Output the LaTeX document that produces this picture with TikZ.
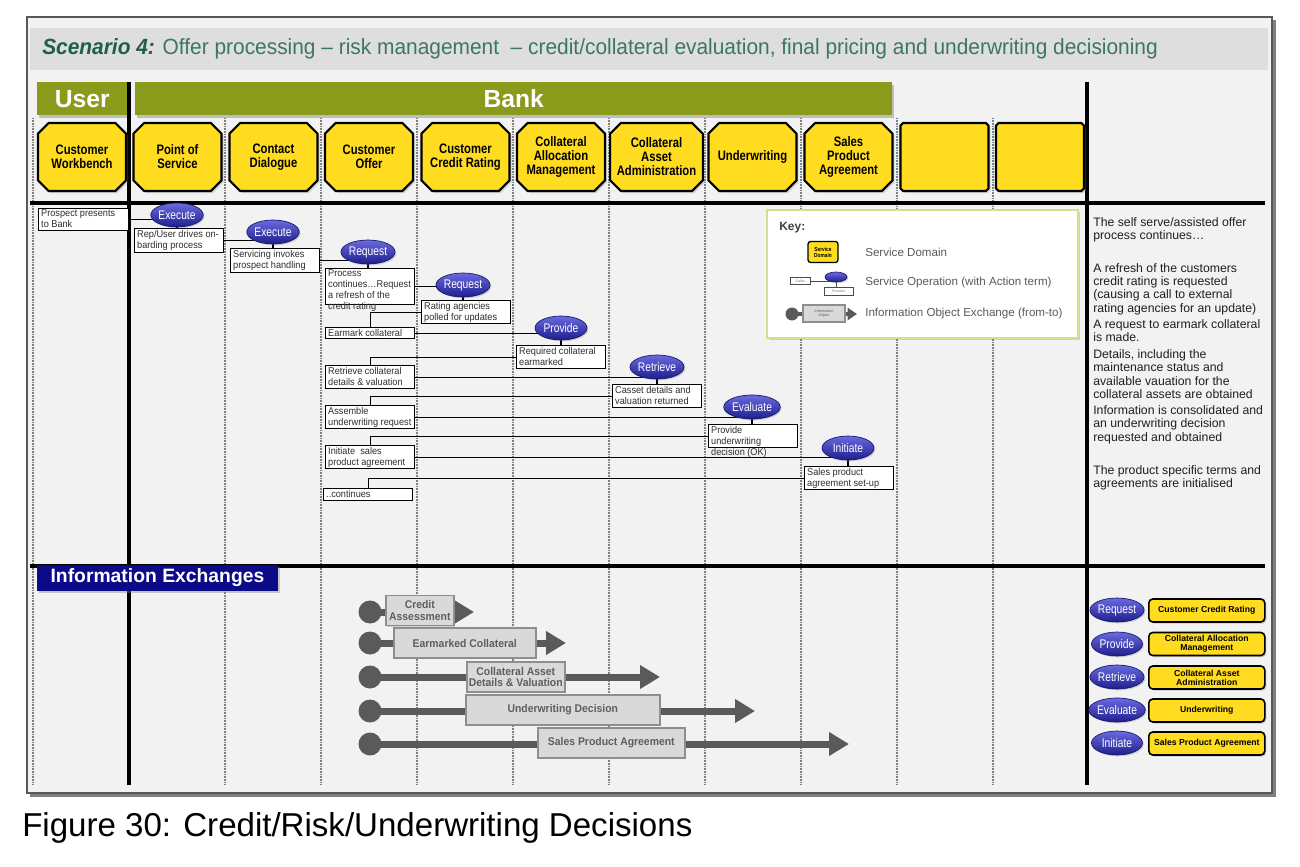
\documentclass[tikz,border=0pt]{standalone}
\usepackage{fontspec}
\setmainfont{Liberation Sans}
\newfontfamily\nar[FakeStretch=0.82]{Liberation Sans}
\newfontfamily\ttlfont[FakeStretch=0.95]{Liberation Sans}
\newfontfamily\msgf[FakeStretch=0.93]{Liberation Sans}
\usetikzlibrary{shapes.misc,shapes.geometric,arrows.meta,shadows,calc}
\definecolor{panelbg}{HTML}{F2F2F2}
\definecolor{titlebg}{HTML}{DEDEDE}
\definecolor{ttlbold}{HTML}{1F5E48}
\definecolor{ttlreg}{HTML}{3C7763}
\definecolor{bankolive}{HTML}{8A9A1B}
\definecolor{sdyellow}{HTML}{FFDC1F}
\definecolor{optop}{HTML}{6A6AE0}
\definecolor{opbot}{HTML}{1E1E8E}
\definecolor{opedge}{HTML}{16166A}
\definecolor{navyhdr}{HTML}{0B0B8A}
\definecolor{keyedge}{HTML}{D3DE8E}
\definecolor{keytext}{HTML}{5A5A5A}
\definecolor{iogray}{HTML}{5A5A5A}
\definecolor{ioboxfill}{HTML}{D9D9D9}
\definecolor{ioboxdraw}{HTML}{8E8E8E}
\definecolor{iotext}{HTML}{5E5E5E}
\definecolor{dotgray}{HTML}{808080}
\pgfdeclarelayer{panel}
\pgfdeclarelayer{conn}
\pgfsetlayers{panel,conn,main}
\newcommand\msg[6]{%
  \node[mbox, minimum width=#4*0.75pt, minimum height=#5*0.75pt, anchor=north west] (#1) at (#2,#3) {};
  \node[mtext, anchor=north west] (#1t) at (#1.north west) {#6};}
\begin{document}
\begin{tikzpicture}[x=0.75pt,y=-0.75pt,
  sd/.style={chamfered rectangle, chamfered rectangle xsep=4pt, chamfered rectangle ysep=4pt,
    draw=black, line width=1.6pt, fill=sdyellow, minimum width=88*0.75pt, minimum height=68*0.75pt,
    inner sep=1pt, align=center, font=\nar\bfseries\fontsize{10.3}{10.5}\selectfont,
    drop shadow={opacity=0.3, shadow xshift=1.5pt, shadow yshift=-1.5pt}},
  bar/.style={fill=bankolive, text=white, font=\bfseries\fontsize{18.5}{18.5}\selectfont,
    minimum height=33*0.75pt, inner sep=0pt, drop shadow={opacity=0.45, shadow xshift=1pt, shadow yshift=-2pt}},
  dotline/.style={draw=dotgray, line width=0.8pt, dash pattern=on 0.6pt off 0.6pt},
  thickline/.style={draw=black, line width=2.3pt},
  op/.style={ellipse, draw=opedge, line width=0.5pt, top color=optop, bottom color=opbot,
    minimum width=52*0.75pt, minimum height=24*0.75pt, inner sep=0pt, text=white,
    font=\nar\fontsize{9.4}{9.4}\selectfont, drop shadow={opacity=0.3, shadow xshift=1pt, shadow yshift=-1pt}},
  mbox/.style={draw=black, line width=1.1pt, fill=white, inner sep=0pt},
  mtext/.style={inner xsep=2.2pt, inner ysep=1.4pt, align=left, font=\msgf\fontsize{7.4}{8.25}\selectfont, text=black!82},
  cn/.style={draw=black, line width=1.1pt},
  ioline/.style={line width=5.25pt, draw=iogray, -{Triangle[length=15pt,width=17pt]}},
  iocirc/.style={circle, fill=iogray, minimum size=23*0.75pt, inner sep=0pt},
  iobox/.style={draw=ioboxdraw, line width=1.2pt, fill=ioboxfill, font=\msgf\bfseries\fontsize{8.4}{8.8}\selectfont,
    text=iotext, align=center, inner sep=1pt, minimum height=30*0.75pt,
    drop shadow={opacity=0.3, shadow xshift=1pt, shadow yshift=-1pt}},
  lbox/.style={rounded corners=3pt, draw=black, line width=1.2pt, fill=sdyellow, minimum width=116*0.75pt,
    minimum height=23*0.75pt, font=\bfseries\fontsize{6.5}{6.8}\selectfont, align=center, inner sep=1pt,
    drop shadow={opacity=0.35, shadow xshift=1.2pt, shadow yshift=-1.2pt}},
  keylbl/.style={anchor=west, inner sep=0pt, font=\fontsize{8.7}{9}\selectfont, text=keytext},
  rtxt/.style={anchor=north west, align=left, inner sep=0pt, font=\fontsize{9.2}{10}\selectfont, text=black!88}
]
\useasboundingbox (0,0) rectangle (1300,867);

\begin{pgfonlayer}{panel}
  \fill[white] (0,0) rectangle (1300,867);
  \fill[black!50] (30,20) rectangle (1276,797);
  \fill[panelbg] (27,17) rectangle (1272,793);
  \draw[black!65, line width=0.9pt] (27,17) rectangle (1272,793);
  \fill[titlebg] (30,28) rectangle (1268,70);
  \node[anchor=west, inner sep=0pt, font=\ttlfont\fontsize{16.5}{18}\selectfont, text=ttlreg] (title) at (42,49)
    {\textcolor{ttlbold}{\bfseries\itshape Scenario 4:} Offer processing – risk management \ – credit/collateral evaluation, final pricing and underwriting decisioning};
  \node[bar, minimum width=90*0.75pt, anchor=north west] (user) at (37,82) {User};
  \node[bar, minimum width=757*0.75pt, anchor=north west] (bank) at (135,82) {Bank};
  \foreach \x in {33,225,321,417,513,609,705,801,897,993}
    \draw[dotline] (\x,118) -- (\x,785);
  \draw[thickline] (129,82) -- (129,785);
  \draw[thickline] (1087,82) -- (1087,785);
  \draw[thickline] (30,203) -- (1265,203);
  \draw[thickline] (30,566) -- (1265,566);
\end{pgfonlayer}

% service domains
\node[sd] (sdCW) at (82,157) {Customer\\Workbench};
\node[sd] (sdPS) at (177.5,157) {Point of\\Service};
\node[sd] (sdCD) at (273.5,157) {Contact\\Dialogue};
\node[sd] (sdCO) at (369,157) {Customer\\Offer};
\node[sd] (sdCR) at (465.5,157) {Customer\\Credit Rating};
\node[sd] (sdCA) at (561,157) {Collateral\\Allocation\\Management};
\node[sd] (sdAA) at (656.5,157) {Collateral\\Asset\\Administration};
\node[sd] (sdUW) at (752.5,157) {Underwriting};
\node[sd] (sdSP) at (848.5,157) {Sales\\Product\\Agreement};
\node[sd] (sdE1) at (944.5,157) {};
\node[sd] (sdE2) at (1040,157) {};

% key box (below connectors of key)
\begin{pgfonlayer}{conn}
  \node[fill=white, draw=keyedge, line width=1.5pt, minimum width=311*0.75pt, minimum height=128*0.75pt,
    anchor=north west, drop shadow={opacity=0.3, shadow xshift=1.5pt, shadow yshift=-1.5pt}] (key) at (766,209) {};
\end{pgfonlayer}

% messages
\msg{m1}{38}{208}{90}{22}{Prospect presents\\to Bank}
\msg{m2}{134}{228}{89}{24}{Rep/User drives on-\\barding process}
\msg{m3}{230}{248}{89}{24}{Servicing invokes\\prospect handling}
\msg{m4}{325}{268}{89}{36}{Process\\continues…Request\\a refresh of the\\credit rating}
\msg{m5}{421}{300}{89}{23}{Rating agencies\\polled for updates}
\msg{m6}{325}{327}{89}{11}{Earmark collateral}
\msg{m7}{516}{345}{89}{23}{Required collateral\\earmarked}
\msg{m8}{325}{365}{89}{23}{Retrieve collateral\\details \& valuation}
\msg{m9}{612}{384}{89}{23}{Casset details and\\valuation returned}
\msg{m10}{325}{405}{89}{23}{Assemble\\underwriting request}
\msg{m11}{708}{424}{89}{23}{Provide\\underwriting\\decision (OK)}
\msg{m12}{325}{445}{89}{23}{Initiate \ sales\\product agreement}
\msg{m13}{804}{466}{89}{23}{Sales product\\agreement set-up}
\msg{m14}{323}{488}{89}{12}{..continues}

% operations
\node[op] (e1) at (177,215) {Execute};
\node[op] (e2) at (273,232) {Execute};
\node[op] (e3) at (368,252) {Request};
\node[op] (e4) at (463,285) {Request};
\node[op] (e5) at (561,328) {Provide};
\node[op] (e6) at (657,367) {Retrieve};
\node[op] (e7) at (752,407) {Evaluate};
\node[op] (e8) at (848,448) {Initiate};

\begin{pgfonlayer}{conn}
  \draw[cn] (m1.east) -- (m1.east -| e1.center);
  \draw[cn] (e1.center) -- (e1.center |- m2.north);
  \draw[cn] (m2.east) -- (m2.east -| e2.center);
  \draw[cn] (e2.center) -- (e2.center |- m3.north);
  \draw[cn] (m3.east) -- (m3.east -| e3.center);
  \draw[cn] (e3.center) -- (e3.center |- m4.north);
  \draw[cn] (m4.east) -- (m4.east -| e4.center);
  \draw[cn] (e4.center) -- (e4.center |- m5.north);
  \draw[cn] (m5.west) -| (m6.north);
  \draw[cn] (m6.east) -- (m6.east -| e5.center);
  \draw[cn] (e5.center) -- (e5.center |- m7.north);
  \draw[cn] (m7.west) -| (m8.north);
  \draw[cn] (m8.east) -- (m8.east -| e6.center);
  \draw[cn] (e6.center) -- (e6.center |- m9.north);
  \draw[cn] (m9.west) -| (m10.north);
  \draw[cn] (m10.east) -- (m10.east -| e7.center);
  \draw[cn] (e7.center) -- (e7.center |- m11.north);
  \draw[cn] (m11.west) -| (m12.north);
  \draw[cn] (m12.east) -- (m12.east -| e8.center);
  \draw[cn] (e8.center) -- (e8.center |- m13.north);
  \draw[cn] (m13.west) -| (m14.north);
\end{pgfonlayer}

% key contents
\node[anchor=west, inner sep=0pt, font=\bfseries\fontsize{9}{9}\selectfont, text=black!75] (keyt) at (779,228) {Key:};
\node[draw=black, line width=1pt, fill=sdyellow, rounded corners=2pt, minimum width=30*0.75pt, minimum height=21*0.75pt,
  inner sep=0pt, align=center, font=\nar\bfseries\fontsize{4.4}{4.6}\selectfont] (ksd) at (823,252) {Service\\Domain};
\node[keylbl] (kl1) at (865,252) {Service Domain};
\node[draw=black!70, fill=white, line width=0.6pt, minimum width=20*0.75pt, minimum height=7*0.75pt, inner sep=0pt,
  font=\fontsize{2.6}{3}\selectfont, text=black!55] (kcaller) at (800.5,281) {Caller};
\node[op, minimum width=22*0.75pt, minimum height=10*0.75pt, font=\fontsize{2.5}{3}\selectfont] (kop) at (836,277) {};
\node[draw=black!70, fill=white, line width=0.6pt, minimum width=29*0.75pt, minimum height=8*0.75pt, inner sep=0pt,
  font=\fontsize{2.6}{3}\selectfont, text=black!55] (kprov) at (838.5,291) {Provider};
\node[keylbl] (kl2) at (865,282) {Service Operation (with Action term)};
\node[circle, fill=iogray, minimum size=13*0.75pt, inner sep=0pt] (kc) at (792,314) {};
\coordinate (ktip) at (857,314);
\node[keylbl] (kl3) at (865,313) {Information Object Exchange (from-to)};
\begin{pgfonlayer}{conn}
  \draw[draw=black!70, line width=0.6pt] (kcaller.east) -- (kcaller.east -| kop.center);
  \draw[draw=black!70, line width=0.6pt] (kop.center) -- (kop.center |- kprov.north);
  \draw[line width=3pt, draw=iogray, -{Triangle[length=7pt,width=9pt]}] (kc.center) -- (ktip);
\end{pgfonlayer}
\node[draw=ioboxdraw, line width=0.8pt, fill=ioboxfill, minimum width=42*0.75pt, minimum height=17*0.75pt,
  font=\fontsize{2.8}{3.2}\selectfont, text=iotext, align=center, inner sep=0pt] (kio) at (824,313.5) {Information\\Object};

% right-hand narrative
\node[rtxt] (r1) at (1093,217) {The self serve/assisted offer\\process continues…};
\node[rtxt] (r2) at (1093,263) {A refresh of the customers\\credit rating is requested\\(causing a call to external\\rating agencies for an update)};
\node[rtxt] (r3) at (1093,319.5) {A request to earmark collateral\\is made.};
\node[rtxt] (r4) at (1093,349.5) {Details, including the\\maintenance status and\\available vauation for the\\collateral assets are obtained};
\node[rtxt] (r5) at (1093,405.5) {Information is consolidated and\\an underwriting decision\\requested and obtained};
\node[rtxt] (r6) at (1093,465) {The product specific terms and\\agreements are initialised};

% information exchanges
\node[fill=navyhdr, text=white, font=\bfseries\fontsize{14.5}{14.5}\selectfont, minimum height=26*0.75pt,
  inner xsep=10pt, inner ysep=0pt, anchor=west, drop shadow={opacity=0.4, shadow xshift=1.5pt, shadow yshift=-1.5pt}] (iehdr) at (37,578) {Information Exchanges};

\node[iocirc] (c1) at (370,612) {};
\node[iocirc] (c2) at (370,643) {};
\node[iocirc] (c3) at (370,677) {};
\node[iocirc] (c4) at (370,711) {};
\node[iocirc] (c5) at (370,744) {};
\coordinate (t1) at (474,612);
\coordinate (t2) at (566,643);
\coordinate (t3) at (660,677);
\coordinate (t4) at (755,711);
\coordinate (t5) at (849,744);
\begin{pgfonlayer}{conn}
  \draw[ioline] (c1.center) -- (t1);
  \draw[ioline] (c2.center) -- (t2);
  \draw[ioline] (c3.center) -- (t3);
  \draw[ioline] (c4.center) -- (t4);
  \draw[ioline] (c5.center) -- (t5);
\end{pgfonlayer}
\node[iobox, minimum width=68*0.75pt, anchor=west] (x1) at (385,610.5) {Credit\\Assessment};
\node[iobox, minimum width=142*0.75pt, anchor=west] (x2) at (393,643) {Earmarked Collateral};
\node[iobox, minimum width=98*0.75pt, anchor=west] (x3) at (466,677) {Collateral Asset\\Details \& Valuation};
\node[iobox, minimum width=194*0.75pt, anchor=west] (x4) at (465,710) {Underwriting Decision};
\node[iobox, minimum width=147*0.75pt, anchor=west] (x5) at (537,743) {Sales Product Agreement};

% right legend
\node[op, minimum width=51*0.75pt] (l1) at (1117,610) {Request};
\node[op, minimum width=51*0.75pt] (l2) at (1117,644) {Provide};
\node[op, minimum width=51*0.75pt] (l3) at (1117,677) {Retrieve};
\node[op, minimum width=51*0.75pt] (l4) at (1117,710) {Evaluate};
\node[op, minimum width=51*0.75pt] (l5) at (1117,743) {Initiate};
\node[lbox, anchor=west] (lb1) at (1148,610.5) {Customer Credit Rating};
\node[lbox, anchor=west] (lb2) at (1148,644) {Collateral Allocation\\Management};
\node[lbox, anchor=west] (lb3) at (1148,677.5) {Collateral Asset\\Administration};
\node[lbox, anchor=west] (lb4) at (1148,710.5) {Underwriting};
\node[lbox, anchor=west] (lb5) at (1148,743.5) {Sales Product Agreement};

% caption
\node[anchor=west, inner sep=0pt, font=\fontsize{24.8}{26}\selectfont] (cap) at (22,828) {Figure 30: Credit/Risk/Underwriting Decisions};
\end{tikzpicture}
\end{document}
